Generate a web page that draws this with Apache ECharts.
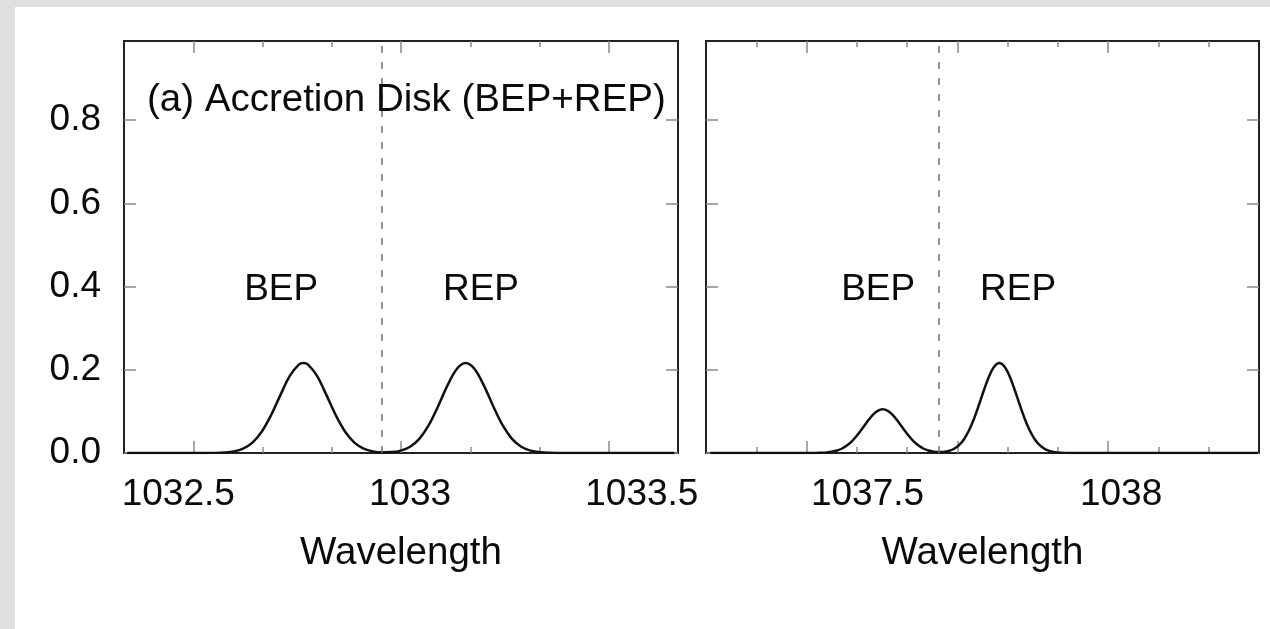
<!DOCTYPE html>
<html>
<head>
<meta charset="utf-8">
<script src="https://cdn.jsdelivr.net/npm/echarts@6/dist/echarts.min.js"></script>
<style>
  html, body { margin: 0; padding: 0; background: #fff; }
  #chart { width: 1270px; height: 629px; }
</style>
</head>
<body>
<div id="chart"></div>
<script>
// O VI doublet emission from an accretion disk: blue (BEP) and red (REP) peaks
const leftWavelength = [1032.39, 1032.50, 1032.56, 1032.58, 1032.60, 1032.62, 1032.64, 1032.66, 1032.68, 1032.70,
  1032.72, 1032.74, 1032.76, 1032.77, 1032.78, 1032.80, 1032.82, 1032.84, 1032.86, 1032.88, 1032.90, 1032.92,
  1032.94, 1032.96, 1032.98, 1033.00, 1033.02, 1033.04, 1033.06, 1033.08, 1033.10, 1033.12, 1033.14, 1033.16,
  1033.18, 1033.20, 1033.22, 1033.24, 1033.26, 1033.28, 1033.30, 1033.34, 1033.45, 1033.57];
const leftFlux = [0, 0, 0, 0.0003, 0.0013, 0.0039, 0.0107, 0.0251, 0.0511, 0.0903,
  0.1384, 0.1840, 0.2122, 0.216, 0.2122, 0.1840, 0.1384, 0.0903, 0.0511, 0.0251, 0.0107, 0.0039,
  0.0018, 0.0022, 0.0058, 0.0151, 0.0340, 0.0662, 0.1110, 0.1607, 0.2006, 0.216, 0.2006, 0.1607,
  0.1110, 0.0662, 0.0340, 0.0151, 0.0058, 0.0019, 0.0005, 0, 0, 0];

const rightWavelength = [1037.19, 1037.30, 1037.36,
  1037.39, 1037.40, 1037.41, 1037.42, 1037.43, 1037.44, 1037.45, 1037.46, 1037.47, 1037.48, 1037.49,
  1037.50, 1037.51, 1037.52, 1037.53, 1037.54, 1037.55, 1037.56, 1037.57, 1037.58, 1037.59,
  1037.60, 1037.61, 1037.62, 1037.63, 1037.64, 1037.65, 1037.66, 1037.67, 1037.68, 1037.69,
  1037.70, 1037.71, 1037.72, 1037.73, 1037.74, 1037.75, 1037.76, 1037.77, 1037.78, 1037.79,
  1037.80, 1037.81, 1037.82, 1037.83, 1037.84, 1037.85, 1037.86, 1037.87, 1037.88, 1037.89, 1037.90,
  1037.95, 1038.05, 1038.27];
const rightFlux = [0, 0, 0,
  0.0001, 0.0003, 0.0006, 0.0014, 0.0030, 0.0059, 0.0108, 0.0184, 0.0292, 0.0432, 0.0594,
  0.0762, 0.0911, 0.1013, 0.105, 0.1013, 0.0911, 0.0762, 0.0594, 0.0432, 0.0292,
  0.0184, 0.0108, 0.0060, 0.0033, 0.0022, 0.0026, 0.0049, 0.0096, 0.0183, 0.0326,
  0.0539, 0.0823, 0.1165, 0.1526, 0.1851, 0.2078, 0.216, 0.2078, 0.1851, 0.1526,
  0.1165, 0.0823, 0.0539, 0.0326, 0.0183, 0.0095, 0.0046, 0.0020, 0.0008, 0.0003, 0.0001,
  0, 0, 0];

// Axis labels
const leftTickLabels = [1032.5, 1033, 1033.5];
const rightTickLabels = [1037.5, 1038];
const fluxTickLabels = [0, 0.2, 0.4, 0.6, 0.8];
const axisName = 'Wavelength';
const panelTitle = '(a) Accretion Disk (BEP+REP)';

// Line centres (dashed) and peak annotations
const leftCenter = 1032.945;
const rightCenter = 1037.645;
const peakNames = ['BEP', 'REP'];
const leftPeakLabelX = [1032.722, 1033.153];
const rightPeakLabelX = [1037.521, 1037.797];
const peakLabelY = 0.393;

// Tick-mark slots along the frame (major / minor), in slot units
const leftSlotCount = 8;
const leftMajorSlots = [1, 4, 7];
const leftMinorSlots = [2, 3, 5, 6];
const rightSlotCount = 11;
const rightMajorSlots = [2, 5, 8];
const rightMinorSlots = [1, 3, 4, 6, 7, 9, 10];

const FONT = "'Liberation Sans', Arial, Helvetica, sans-serif";
const TEXT = '#0a0a0a';
const FS = 37;
const FS_WORDS = 38.5;
const TICK_STYLE = { color: '#8a8a8a', width: 1.5 };

const zip = (xs, ys) => xs.map((x, i) => [x, ys[i]]);

function labelAxis(gridIndex, min, max, labels) {
  return {
    type: 'value', gridIndex, position: 'bottom', min, max,
    axisLine: { show: false, onZero: false },
    axisTick: { show: false },
    splitLine: { show: false },
    axisLabel: {
      show: true, customValues: labels, margin: 23,
      fontSize: FS, fontFamily: FONT, color: TEXT,
      formatter: v => String(v)
    },
    name: axisName, nameLocation: 'middle', nameGap: 81,
    nameTextStyle: { fontSize: FS_WORDS, fontFamily: FONT, color: TEXT }
  };
}

function tickAxis(gridIndex, position, max, slots, len) {
  return {
    type: 'value', gridIndex, position, min: 0, max,
    axisLine: { show: false, onZero: false },
    axisTick: { show: true, inside: true, length: len, customValues: slots, lineStyle: TICK_STYLE },
    axisLabel: { show: false },
    splitLine: { show: false }
  };
}

function fluxAxis(gridIndex, position, withLabels) {
  return {
    type: 'value', gridIndex, position, min: 0, max: 0.99,
    axisLine: { show: false, onZero: false },
    axisTick: { show: true, inside: true, length: 12, customValues: fluxTickLabels, lineStyle: TICK_STYLE },
    axisLabel: {
      show: withLabels, customValues: fluxTickLabels, margin: 23,
      fontSize: FS, fontFamily: FONT, color: TEXT,
      formatter: v => v.toFixed(1)
    },
    splitLine: { show: false }
  };
}

function profileSeries(xAxisIndex, yAxisIndex, xs, ys, center, labelXs) {
  return {
    type: 'line', xAxisIndex, yAxisIndex,
    data: zip(xs, ys),
    showSymbol: false, smooth: 0.3,
    lineStyle: { color: '#111', width: 2.5 },
    markLine: {
      silent: true, symbol: ['none', 'none'],
      label: { show: false },
      lineStyle: { type: [7, 9], color: '#6f6f6f', width: 1.5 },
      data: [{ xAxis: center }]
    },
    markPoint: {
      symbol: 'circle', symbolSize: 1,
      itemStyle: { color: 'rgba(0,0,0,0)' },
      label: { show: true, position: 'inside', formatter: '{b}', fontSize: FS, fontFamily: FONT, color: TEXT },
      data: peakNames.map((n, i) => ({ name: n, coord: [labelXs[i], peakLabelY] }))
    }
  };
}

const chart = echarts.init(document.getElementById('chart'), null, { renderer: 'canvas' });
chart.setOption({
  animation: false,
  backgroundColor: '#ffffff',
  graphic: [
    { type: 'rect', silent: true, shape: { x: 0, y: 0, width: 1270, height: 7 }, style: { fill: '#dedfe1' } },
    { type: 'rect', silent: true, shape: { x: 0, y: 0, width: 15, height: 629 }, style: { fill: '#dedfe1' } }
  ],
  title: {
    text: panelTitle, left: 147, top: 81, padding: 0,
    textStyle: { fontSize: FS_WORDS, fontWeight: 'normal', fontFamily: FONT, color: TEXT }
  },
  grid: [
    { left: 124, top: 41, width: 554, height: 412, show: true, borderColor: '#222', borderWidth: 2, backgroundColor: 'transparent' },
    { left: 706, top: 41, width: 553, height: 412, show: true, borderColor: '#222', borderWidth: 2, backgroundColor: 'transparent' }
  ],
  xAxis: [
    labelAxis(0, 1032.383, 1033.578, leftTickLabels),
    tickAxis(0, 'bottom', leftSlotCount, leftMajorSlots, 12),
    tickAxis(0, 'bottom', leftSlotCount, leftMinorSlots, 6),
    tickAxis(0, 'top', leftSlotCount, leftMajorSlots, 12),
    tickAxis(0, 'top', leftSlotCount, leftMinorSlots, 6),
    labelAxis(1, 1037.1815, 1038.272, rightTickLabels),
    tickAxis(1, 'bottom', rightSlotCount, rightMajorSlots, 12),
    tickAxis(1, 'bottom', rightSlotCount, rightMinorSlots, 6),
    tickAxis(1, 'top', rightSlotCount, rightMajorSlots, 12),
    tickAxis(1, 'top', rightSlotCount, rightMinorSlots, 6)
  ],
  yAxis: [
    fluxAxis(0, 'left', true),
    fluxAxis(0, 'right', false),
    fluxAxis(1, 'left', false),
    fluxAxis(1, 'right', false)
  ],
  series: [
    profileSeries(0, 0, leftWavelength, leftFlux, leftCenter, leftPeakLabelX),
    profileSeries(5, 2, rightWavelength, rightFlux, rightCenter, rightPeakLabelX)
  ]
});
</script>
</body>
</html>
